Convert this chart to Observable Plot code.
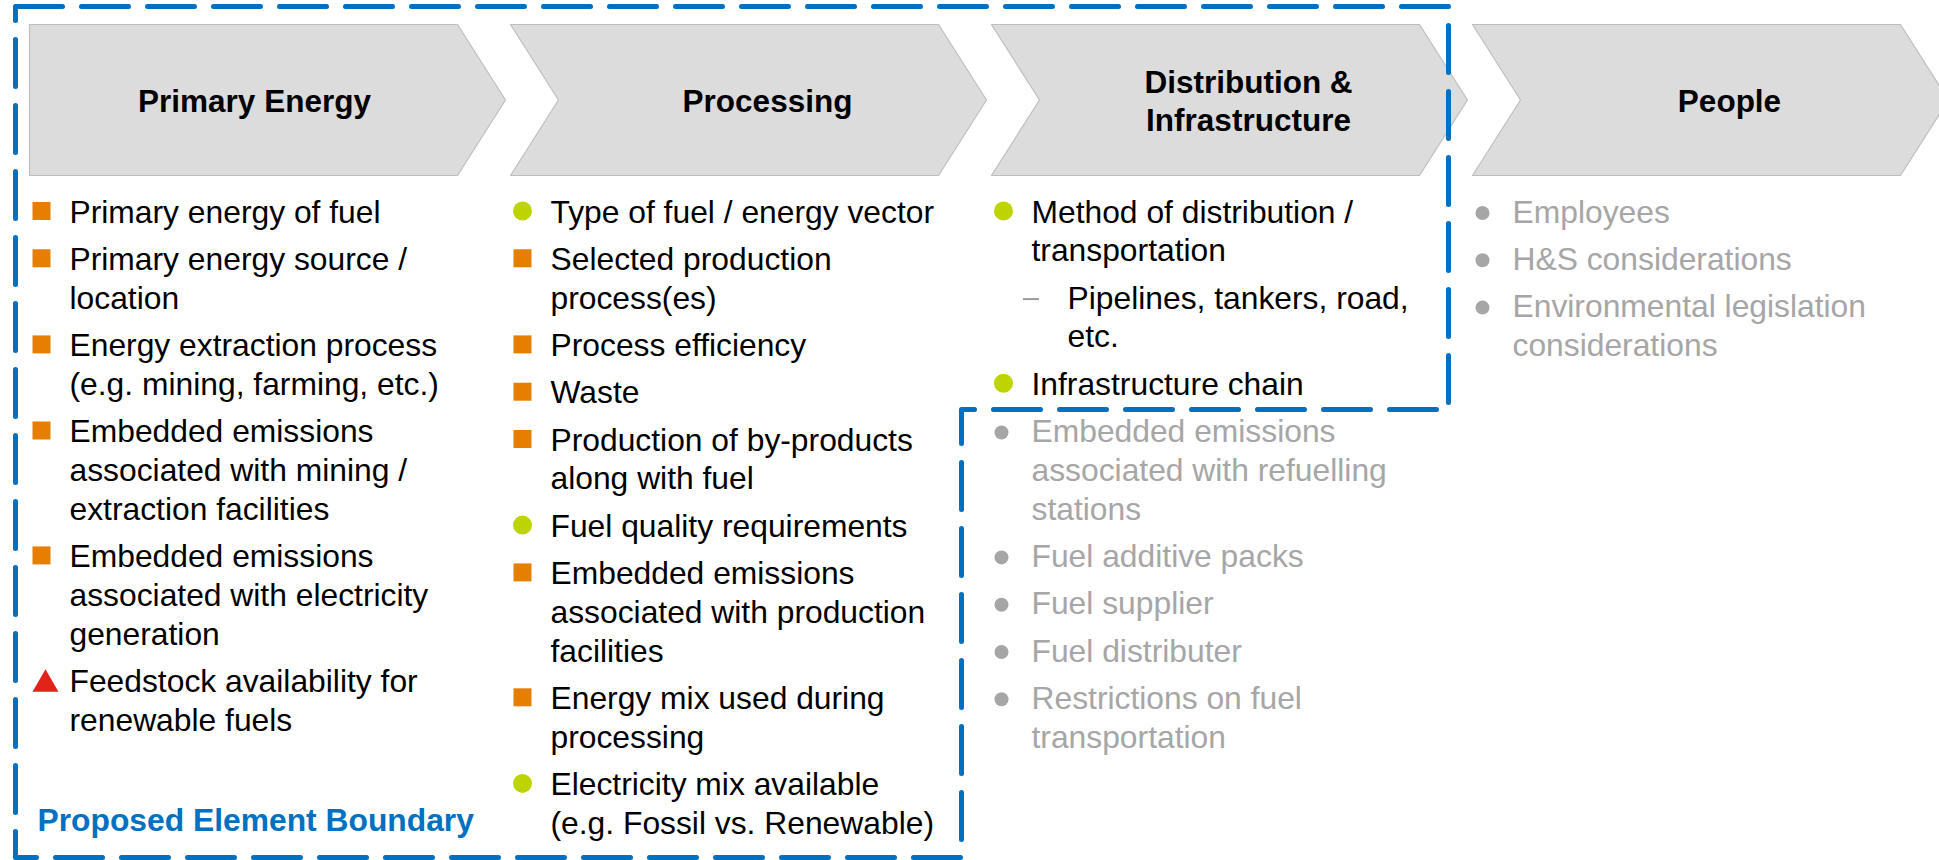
<!DOCTYPE html>
<html>
<head>
<meta charset="utf-8">
<script src="https://cdn.jsdelivr.net/npm/d3@7"></script>
<script src="https://cdn.jsdelivr.net/npm/@observablehq/plot@0.6"></script>
<style>
  html, body { margin: 0; padding: 0; background: #fff; overflow: hidden; }
  #chart svg { display: block; overflow: hidden; }
</style>
</head>
<body>
<div id="chart"></div>
<script>
// ---------- data ----------
const stages = ["Primary Energy", "Processing", "Distribution &\nInfrastructure", "People"];

const primaryEnergyItems = [
  ["square", "Primary energy of fuel"],
  ["square", "Primary energy source /\nlocation"],
  ["square", "Energy extraction process\n(e.g. mining, farming, etc.)"],
  ["square", "Embedded emissions\nassociated with mining /\nextraction facilities"],
  ["square", "Embedded emissions\nassociated with electricity\ngeneration"],
  ["triangle", "Feedstock availability for\nrenewable fuels"]
];

const processingItems = [
  ["circle", "Type of fuel / energy vector"],
  ["square", "Selected production\nprocess(es)"],
  ["square", "Process efficiency"],
  ["square", "Waste"],
  ["square", "Production of by-products\nalong with fuel"],
  ["circle", "Fuel quality requirements"],
  ["square", "Embedded emissions\nassociated with production\nfacilities"],
  ["square", "Energy mix used during\nprocessing"],
  ["circle", "Electricity mix available\n(e.g. Fossil vs. Renewable)"]
];

const distributionItems = [
  ["circle", "Method of distribution /\ntransportation"],
  ["dash", "Pipelines, tankers, road,\netc."],
  ["circle", "Infrastructure chain"],
  ["grey", "Embedded emissions\nassociated with refuelling\nstations"],
  ["grey", "Fuel additive packs"],
  ["grey", "Fuel supplier"],
  ["grey", "Fuel distributer"],
  ["grey", "Restrictions on fuel\ntransportation"]
];

const peopleItems = [
  ["grey", "Employees"],
  ["grey", "H&S considerations"],
  ["grey", "Environmental legislation\nconsiderations"]
];

const boundaryLabel = "Proposed Element Boundary";

// ---------- layout ----------
const W = 1939, H = 860;
const FONT = "'Liberation Sans', Arial, Helvetica, sans-serif";
const FS = 31.8, FSH = 31.5;
const ORANGE = "#E67E00", GREEN = "#BDD400", GREY = "#A6A6A6", RED = "#E2231A", BLUE = "#0070C0";
const columns = [primaryEnergyItems, processingItems, distributionItems, peopleItems];
const colLeft = i => 29 + i * 481;
const chevTop = 24, chevBot = 175, chevMid = (24 + 175) / 2, chevBody = 428, chevTip = 476, notch = 48;

const chevronPts = [];
stages.forEach((s, i) => {
  const L = colLeft(i);
  const pts = [[L, chevTop], [L + chevBody, chevTop], [L + chevTip, chevMid], [L + chevBody, chevBot], [L, chevBot]];
  if (i > 0) pts.push([L + notch, chevMid]);
  pts.forEach(([x, y]) => chevronPts.push({stage: s, x, y}));
});

const headerRows = stages.flatMap((s, i) => {
  const lines = s.split("\n");
  return lines.map((t, j) => ({
    x: colLeft(i) + (i === 0 ? 225 : 257),
    y: 111.5 + (j - (lines.length - 1) / 2) * 37.5,
    text: t
  }));
});

const LINE = 38.8, GAP = 47.3, FIRST = 222;
const textRows = [], markers = [];
columns.forEach((items, c) => {
  const L = colLeft(c);
  let y = FIRST;
  items.forEach(([kind, txt], k) => {
    if (k > 0) y += GAP;
    const lines = txt.split("\n");
    const tx = L + (kind === "dash" ? 76 : 40);
    const mx = kind === "triangle" ? L + 16 : kind === "grey" ? L + 10 : kind === "dash" ? L + 41 : L + 12;
    const rise = kind === "triangle" ? 7.5 : kind === "grey" || kind === "dash" ? 9.5 : 11.5;
    markers.push({kind, x: mx, y: y - rise});
    lines.forEach((t, j) => {
      if (j > 0) y += LINE;
      textRows.push({x: tx, y, text: t, grey: kind === "grey"});
    });
  });
});

// dashed boundary around the first stages
const bx0 = 15, by0 = 6, bx1 = colLeft(3) - 24, bxMid = colLeft(2) - 30, byMid = 409, by1 = 857;
const boundary = [[bx0, by0], [bx1, by0], [bx1, byMid], [bxMid, byMid], [bxMid, by1], [bx0, by1], [bx0, by0]]
  .map(([x, y]) => ({x, y}));

const sq = 18 / Math.sqrt(Math.PI);

const chart = Plot.plot({
  width: W,
  height: H,
  margin: 0,
  x: {domain: [0, W], range: [0, W], axis: null},
  y: {domain: [0, H], range: [0, H], axis: null},
  style: {fontFamily: FONT, background: "#fff", overflow: "hidden"},
  marks: [
    Plot.line(chevronPts, {x: "x", y: "y", z: "stage", curve: "linear-closed", fill: "#DCDCDC", stroke: "#BEBEBE", strokeWidth: 1.2}),
    Plot.text(headerRows, {x: "x", y: "y", text: "text", textAnchor: "middle", lineAnchor: "bottom", fontSize: FSH, fontWeight: "bold", fill: "#000", fontFamily: FONT}),
    Plot.text(textRows, {x: "x", y: "y", text: "text", textAnchor: "start", lineAnchor: "bottom", fontSize: FS, fill: d => d.grey ? GREY : "#000", fontFamily: FONT}),
    Plot.dot(markers.filter(d => d.kind === "square"), {x: "x", y: "y", symbol: "square", r: sq, fill: ORANGE}),
    Plot.dot(markers.filter(d => d.kind === "circle"), {x: "x", y: "y", r: 9.5, fill: GREEN}),
    Plot.dot(markers.filter(d => d.kind === "grey"), {x: "x", y: "y", r: 7, fill: GREY}),
    Plot.dot(markers.filter(d => d.kind === "triangle"), {x: "x", y: "y", symbol: "triangle", r: 9.65, fill: RED}),
    Plot.ruleY(markers.filter(d => d.kind === "dash"), {y: "y", x1: d => d.x - 9, x2: d => d.x + 7, stroke: "#9A9A9A", strokeWidth: 2}),
    Plot.line(boundary, {x: "x", y: "y", stroke: BLUE, strokeWidth: 5, strokeDasharray: "47,19"}),
    Plot.text([boundaryLabel], {x: () => 37, y: () => 830, text: d => d, textAnchor: "start", lineAnchor: "bottom", fontSize: FS, fontWeight: "bold", fill: BLUE, fontFamily: FONT})
  ]
});
document.getElementById("chart").appendChild(chart);
</script>
</body>
</html>
